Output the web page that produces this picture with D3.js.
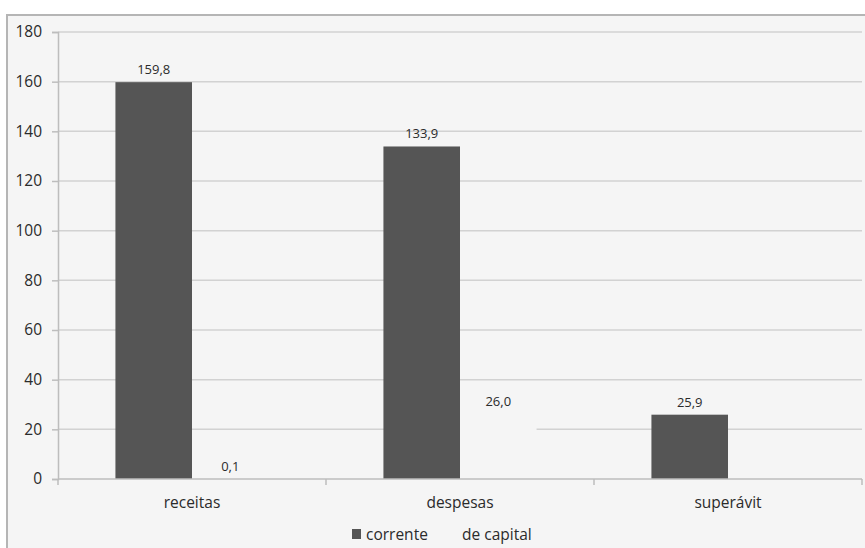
<!DOCTYPE html>
<html>
<head>
<meta charset="utf-8">
<script src="https://cdn.jsdelivr.net/npm/d3@7"></script>
<style>
  html, body { margin: 0; padding: 0; background: #ffffff; }
  svg { display: block; }
  text { font-family: "Open Sans", "Liberation Sans", sans-serif; fill: #2b2b2b; }
</style>
</head>
<body>
<script>
// ---- data ----
const categories = ["receitas", "despesas", "superávit"];
const seriesNames = ["corrente", "de capital"];
const corrente = [159.8, 133.9, 25.9];
const capital = [0.1, 26.0, null];
const yTicks = [0, 20, 40, 60, 80, 100, 120, 140, 160, 180];

// ---- layout ----
const W = 865, H = 548;
const plotL = 58, plotR = 862, plotT = 32, plotB = 479;
const bgColor = "#f5f5f5";
const barColor = "#555555";

const svg = d3.select("body").append("svg").attr("width", W).attr("height", H);

// chart area background + border
svg.append("rect").attr("x", 0).attr("y", 0).attr("width", W).attr("height", H).attr("fill", "#ffffff");
svg.append("rect").attr("x", 7).attr("y", 15).attr("width", W + 10).attr("height", H + 10)
  .attr("fill", bgColor).attr("stroke", "#b5b5b5").attr("stroke-width", 2);

const x = d3.scaleBand().domain(categories).range([plotL, plotR]).padding(0);
const xs = d3.scaleBand().domain(seriesNames).range([0, x.bandwidth()]).paddingInner(0).paddingOuter(0.75);
const y = d3.scaleLinear().domain([0, 180]).range([plotB, plotT]);

// gridlines
svg.append("g").selectAll("line").data(yTicks.filter(d => d > 0)).join("line")
  .attr("x1", plotL).attr("x2", plotR)
  .attr("y1", d => y(d)).attr("y2", d => y(d))
  .attr("stroke", "#d2d2d2").attr("stroke-width", 1.5);

// y axis
const yAxis = d3.axisLeft(y).tickValues(yTicks).tickSize(6).tickPadding(10).tickFormat(d3.format("d"));
const gy = svg.append("g").attr("transform", `translate(${plotL},0)`).call(yAxis);
gy.select(".domain").attr("stroke", "#bdbdbd").attr("stroke-width", 1.5);
gy.selectAll(".tick line").attr("stroke", "#bdbdbd").attr("stroke-width", 1.5);
gy.selectAll(".tick text").attr("font-size", 15.5).attr("font-family", "Open Sans, sans-serif").attr("fill", "#2b2b2b");

// data rows
const rows = categories.map((c, i) => ({ cat: c, vals: [corrente[i], capital[i]] }));
const fmt = v => d3.format(".1f")(v).replace(".", ",");

const groups = svg.append("g").selectAll("g").data(rows).join("g")
  .attr("transform", d => `translate(${x(d.cat)},0)`);

groups.selectAll("rect").data(d => d.vals.map((v, j) => ({ v, s: seriesNames[j] })).filter(e => e.v != null))
  .join("rect")
  .attr("x", e => xs(e.s))
  .attr("width", xs.bandwidth())
  .attr("y", e => y(e.v))
  .attr("height", e => y(0) - y(e.v))
  .attr("fill", e => e.s === "corrente" ? barColor : bgColor);

groups.selectAll("text").data(d => d.vals.map((v, j) => ({ v, s: seriesNames[j] })).filter(e => e.v != null))
  .join("text")
  .attr("x", e => xs(e.s) + xs.bandwidth() / 2)
  .attr("y", e => y(e.v) - 8)
  .attr("text-anchor", "middle")
  .attr("font-size", 13)
  .text(e => fmt(e.v));

// x axis
const boundaries = [plotL, ...categories.map(c => x(c) + x.bandwidth())];
const gx = svg.append("g");
gx.append("line").attr("x1", plotL).attr("x2", plotR).attr("y1", plotB).attr("y2", plotB)
  .attr("stroke", "#bdbdbd").attr("stroke-width", 1.5);
gx.selectAll("line.tk").data(boundaries).join("line").attr("class", "tk")
  .attr("x1", d => d).attr("x2", d => d).attr("y1", plotB).attr("y2", plotB + 6)
  .attr("stroke", "#bdbdbd").attr("stroke-width", 1.5);
gx.selectAll("text").data(categories).join("text")
  .attr("x", d => x(d) + x.bandwidth() / 2)
  .attr("y", 508)
  .attr("text-anchor", "middle")
  .attr("font-size", 15.5)
  .text(d => d);

// legend
const legend = svg.append("g");
const legItems = [
  { name: "corrente", color: barColor, sx: 352, tx: 366 },
  { name: "de capital", color: bgColor, sx: 448, tx: 462 }
];
legend.selectAll("rect").data(legItems).join("rect")
  .attr("x", d => d.sx).attr("y", 529).attr("width", 9).attr("height", 10)
  .attr("fill", d => d.color);
legend.selectAll("text").data(legItems).join("text")
  .attr("x", d => d.tx).attr("y", 540)
  .attr("font-size", 15.5)
  .text(d => d.name);
</script>
</body>
</html>
